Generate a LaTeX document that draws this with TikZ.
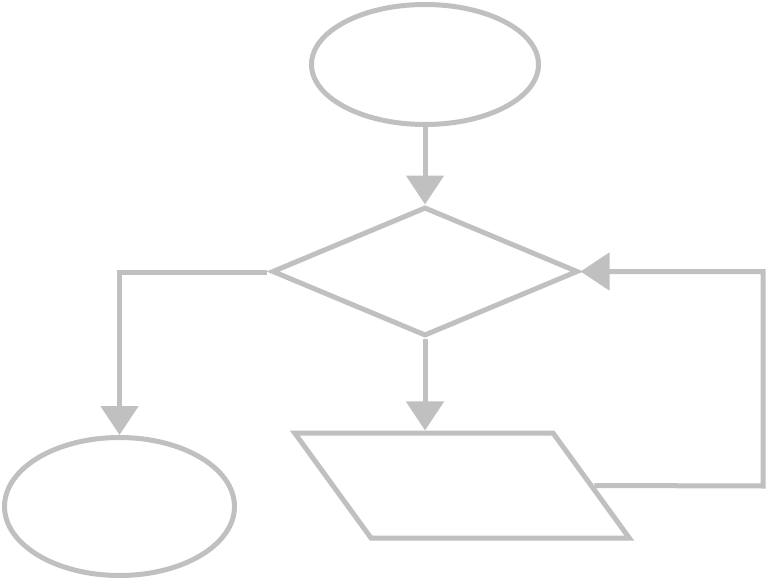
\documentclass[tikz,border=0pt]{standalone}
\usepackage{tikz}
\usetikzlibrary{shapes.geometric}
\usetikzlibrary{arrows.meta}
\definecolor{flowgray}{RGB}{192,192,192}
\tikzset{
  shp/.style={draw=flowgray,line width=5pt,inner sep=0pt},
  flow/.style={draw=flowgray,line width=5pt,-{Triangle[length=29pt,width=37pt]}}
}

\begin{document}
\begin{tikzpicture}[x=1pt,y=-1pt]
    \useasboundingbox (0,0) rectangle (768,580);
    \node [shp,ellipse,minimum width=227pt,minimum height=120pt] (st) at (425,64.5) {};
    \node [shp,diamond,minimum width=306pt,minimum height=129pt] (dec) at (425,271.5) {};
    \node [shp,trapezium,trapezium left angle=126,trapezium right angle=54,
           inner xsep=91pt,inner ysep=52.5pt] (io) at (462,485.5) {};
    \node [shp,ellipse,minimum width=230pt,minimum height=138pt] (en) at (119.5,506.5) {};
    \coordinate (lt) at (267,272);
    \coordinate (rt) at (763,486);
    \draw [flow] (st) -- (dec);
    \draw [flow] (lt) -| (en);
    \draw [flow] (dec.south) -- (dec.south |- io.north);
    \draw [flow] (io.east) -- (rt) |- (dec.east);
\end{tikzpicture}
\end{document}
